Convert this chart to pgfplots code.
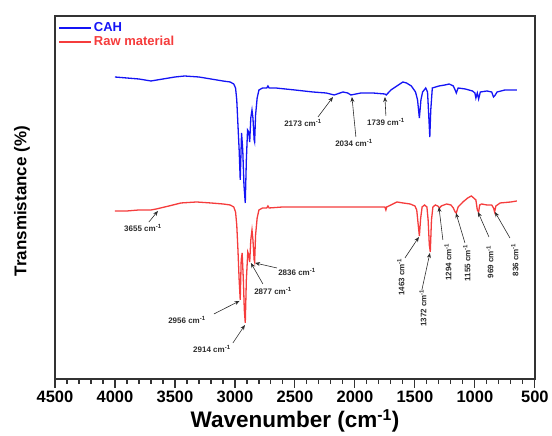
\documentclass[border=0pt]{standalone}
\usepackage{pgfplots}
\pgfplotsset{compat=1.18}
\usepackage{fontspec}
\setmainfont{Liberation Sans}
\usetikzlibrary{arrows.meta}
\definecolor{cahblue}{RGB}{20,20,245}
\definecolor{rawred}{RGB}{245,60,60}
\definecolor{annot}{RGB}{45,45,45}
\tikzset{
  annotarrow/.style={draw=annot, line width=0.6pt, -{Stealth[length=5pt,width=4pt]}},
  annotlabel/.style={text=annot, font=\fontsize{8}{9}\selectfont\bfseries, inner sep=0pt},
}
\begin{document}
\begin{tikzpicture}
\path (-55pt,-55pt) rectangle (497pt,379pt);
\begin{axis}[
  scale only axis, width=480pt, height=363pt,
  at={(0,0)}, anchor=south west,
  xmin=500, xmax=4500, x dir=reverse,
  ymin=16, ymax=379, y dir=reverse,
  xtick={500,1000,...,4500}, minor x tick num=4,
  ytick=\empty,
  xtick pos=left,
  tick align=outside,
  major tick length=9pt, minor tick length=5pt,
  axis line style={draw=black!80, line width=1.3pt},
  every tick/.style={black!80, line width=1.1pt},
  /pgf/number format/assume math mode=true,
  /pgf/number format/1000 sep={},
  xticklabel style={font=\fontsize{16.5}{19}\selectfont\bfseries},
  xlabel={Wavenumber (cm\textsuperscript{-1})},
  every axis x label/.style={at={(axis description cs:0.5,-0.116)}, anchor=center, font=\fontsize{22.5}{26}\selectfont\bfseries},
  ylabel={Transmistance (\%)},
  every axis y label/.style={at={(axis description cs:-0.069,0.49)}, anchor=center, rotate=90, font=\fontsize{17}{20}\selectfont\bfseries},
  legend style={at={(axis description cs:0,1)}, anchor=north west, draw=none, fill=none,
    font=\fontsize{13}{15}\selectfont\bfseries, row sep=-1pt, inner xsep=3pt, inner ysep=4.5pt},
  legend cell align=left,
  legend image code/.code={\draw[#1, line width=1.8pt] (0pt,0pt) -- (32pt,0pt);},
]
\addplot[cahblue, line width=1.3pt] coordinates {
(4000,77) (3900,78) (3800,79) (3700,81) (3650,80) (3600,79) (3500,77) (3420,76)
(3300,77) (3200,79) (3100,81) (3040,82) (3010,84) (2995,88) (2985,100) (2975,125)
(2965,150) (2956,180) (2945,133) (2935,150) (2925,185) (2914,203) (2905,160)
(2895,130) (2885,132) (2877,142) (2868,118) (2858,110) (2850,118) (2840,140)
(2836,142) (2828,115) (2815,98) (2800,90) (2770,88) (2735,88) (2725,86) (2715,88)
(2660,88) (2500,90) (2350,92) (2240,93) (2173,95) (2100,92) (2060,93) (2034,95)
(1950,93) (1850,93) (1750,94) (1739,95) (1700,90) (1650,86) (1600,82) (1570,83)
(1530,86) (1495,92) (1478,100) (1463,118) (1450,100) (1436,92) (1410,88) (1395,92)
(1385,115) (1376,137) (1368,110) (1355,88) (1300,86) (1250,85) (1214,84) (1180,86)
(1165,90) (1155,93) (1140,88) (1080,89) (1020,91) (1000,93) (992,98) (980,93)
(969,99) (955,92) (900,91) (860,92) (845,97) (836,96) (815,92) (750,90) (650,90)
};
\addlegendentry{\textcolor{cahblue}{CAH}}
\addplot[rawred, line width=1.3pt] coordinates {
(4000,211) (3900,211) (3800,210) (3700,210) (3655,209) (3550,206) (3450,203)
(3320,202) (3200,203) (3100,204) (3040,205) (3010,207) (2995,212) (2985,225)
(2975,250) (2965,280) (2956,300) (2948,260) (2940,253) (2930,280) (2922,310)
(2914,323) (2905,280) (2893,252) (2885,255) (2877,262) (2868,240) (2858,230)
(2850,240) (2840,260) (2836,262) (2828,235) (2815,218) (2800,210) (2770,208)
(2735,208) (2725,206) (2715,208) (2600,207) (2400,207) (2200,207) (2000,207)
(1800,207) (1750,207) (1742,210) (1735,207) (1700,205) (1650,202) (1600,203)
(1540,204) (1500,206) (1485,210) (1475,222) (1463,236) (1452,218) (1440,207)
(1420,205) (1400,207) (1390,220) (1380,245) (1372,252) (1362,220) (1350,207)
(1330,205) (1310,206) (1294,208) (1280,206) (1236,204) (1200,205) (1180,208)
(1165,212) (1155,213) (1140,207) (1100,202) (1060,198) (1030,196) (1010,198)
(992,200) (980,210) (969,212) (960,205) (945,204) (900,205) (860,205) (845,208)
(836,212) (825,206) (790,203) (700,202) (650,201)
};
\addlegendentry{\textcolor{rawred}{Raw material}}
% annotations
\draw[annotarrow] (axis cs:2308,117) -- (axis cs:2183,97);
\node[annotlabel] at (axis cs:2433,123) {2173 cm\textsuperscript{-1}};
\draw[annotarrow] (axis cs:1992,137) -- (axis cs:2025,97);
\node[annotlabel] at (axis cs:2008,143) {2034 cm\textsuperscript{-1}};
\draw[annotarrow] (axis cs:1742,116) -- (axis cs:1750,97);
\node[annotlabel] at (axis cs:1742,122) {1739 cm\textsuperscript{-1}};
\draw[annotarrow] (axis cs:3717,222) -- (axis cs:3642,211);
\node[annotlabel] at (axis cs:3767,228) {3655 cm\textsuperscript{-1}};
\draw[annotarrow] (axis cs:2650,268) -- (axis cs:2833,263);
\node[annotlabel] at (axis cs:2483,272) {2836 cm\textsuperscript{-1}};
\draw[annotarrow] (axis cs:2767,284) -- (axis cs:2867,263);
\node[annotlabel] at (axis cs:2683,291) {2877 cm\textsuperscript{-1}};
\draw[annotarrow] (axis cs:3175,314) -- (axis cs:2962,301);
\node[annotlabel] at (axis cs:3400,320) {2956 cm\textsuperscript{-1}};
\draw[annotarrow] (axis cs:3017,343) -- (axis cs:2917,325);
\node[annotlabel] at (axis cs:3192,349) {2914 cm\textsuperscript{-1}};
\draw[annotarrow] (axis cs:1583,258) -- (axis cs:1467,237);
\node[annotlabel, rotate=90] at (axis cs:1617,277) {1463 cm\textsuperscript{-1}};
\draw[annotarrow] (axis cs:1442,290) -- (axis cs:1375,253);
\node[annotlabel, rotate=90] at (axis cs:1433,308) {1372 cm\textsuperscript{-1}};
\draw[annotarrow] (axis cs:1267,240) -- (axis cs:1300,207);
\node[annotlabel, rotate=90] at (axis cs:1225,262) {1294 cm\textsuperscript{-1}};
\draw[annotarrow] (axis cs:1083,243) -- (axis cs:1158,213);
\node[annotlabel, rotate=90] at (axis cs:1067,263) {1155 cm\textsuperscript{-1}};
\draw[annotarrow] (axis cs:883,237) -- (axis cs:975,212);
\node[annotlabel, rotate=90] at (axis cs:875,262) {969 cm\textsuperscript{-1}};
\draw[annotarrow] (axis cs:708,238) -- (axis cs:833,212);
\node[annotlabel, rotate=90] at (axis cs:667,260) {836 cm\textsuperscript{-1}};
\end{axis}
\end{tikzpicture}
\end{document}
